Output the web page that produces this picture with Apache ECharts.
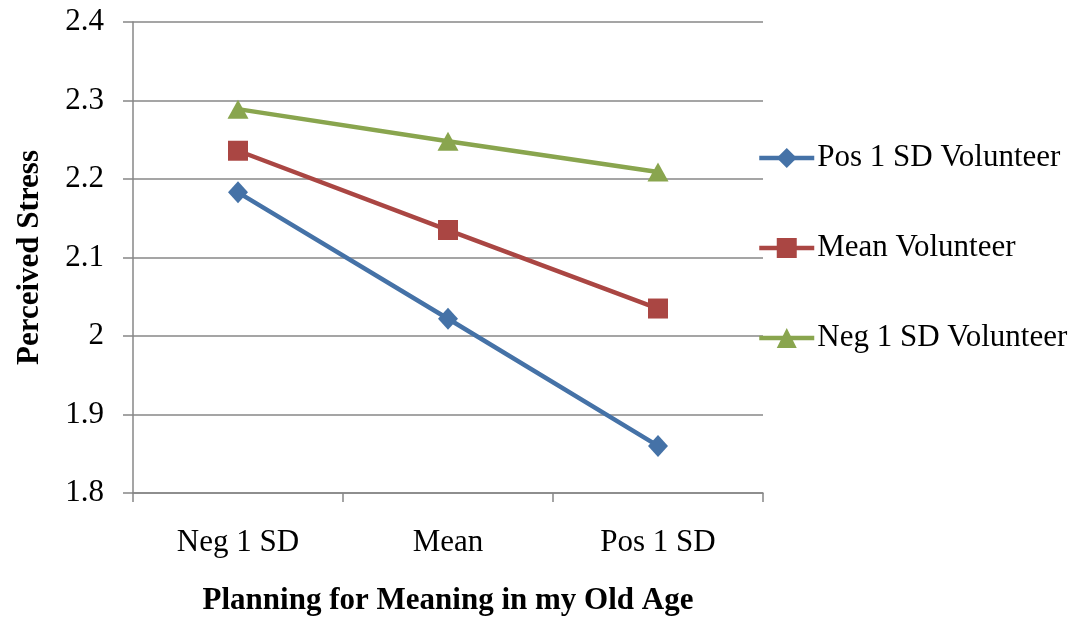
<!DOCTYPE html>
<html>
<head>
<meta charset="utf-8">
<script src="https://cdn.jsdelivr.net/npm/echarts@6/dist/echarts.min.js"></script>
<style>
html,body{margin:0;padding:0;background:#fff;}
#chart{width:1087px;height:617px;}
</style>
</head>
<body>
<div id="chart"></div>
<script>
const categories = ["Neg 1 SD", "Mean", "Pos 1 SD"];
const posVolunteer = [2.183, 2.022, 1.860];
const meanVolunteer = [2.236, 2.135, 2.035];
const negVolunteer = [2.289, 2.248, 2.209];
const seriesNames = ["Pos 1 SD Volunteer", "Mean Volunteer", "Neg 1 SD Volunteer"];

const FONT = '"Liberation Serif", "Times New Roman", serif';
const GRID_COLOR = '#878787';
const FS = 31;

const chart = echarts.init(document.getElementById('chart'), null, {renderer: 'canvas'});

function lineSeries(name, data, color, symbol, size) {
  return {
    name: name,
    type: 'line',
    data: data,
    symbol: symbol,
    symbolSize: size,
    showAllSymbol: true,
    lineStyle: {color: color, width: 4.5},
    itemStyle: {color: color},
    emphasis: {disabled: true},
    animation: false
  };
}

chart.setOption({
  animation: false,
  backgroundColor: '#ffffff',
  grid: {left: 133, top: 22, right: 324, bottom: 124, containLabel: false, outerBoundsMode: 'none'},
  legend: {
    orient: 'vertical',
    left: 757,
    top: 141,
    padding: 0,
    itemWidth: 55,
    itemHeight: 25,
    itemGap: 56,
    data: seriesNames,
    lineStyle: {width: 4.5},
    textStyle: {fontFamily: FONT, fontSize: FS, color: '#000', lineHeight: 34, padding: [0,0,0,-2]}
  },
  xAxis: {
    type: 'category',
    data: categories,
    boundaryGap: true,
    axisLine: {show: true, lineStyle: {color: GRID_COLOR, width: 1.5}},
    axisTick: {show: true, length: 9, inside: false, lineStyle: {color: GRID_COLOR, width: 1.5}},
    axisLabel: {fontFamily: FONT, fontSize: FS, color: '#000', margin: 34},
    splitLine: {show: false},
    name: 'Planning for Meaning in my Old Age',
    nameLocation: 'middle',
    nameGap: 92,
    nameTextStyle: {fontFamily: FONT, fontSize: FS, fontWeight: 'bold', color: '#000'}
  },
  yAxis: {
    type: 'value',
    min: 1.8,
    max: 2.4,
    interval: 0.1,
    axisLine: {show: true, lineStyle: {color: GRID_COLOR, width: 1.5}},
    axisTick: {show: true, length: 10, inside: false, lineStyle: {color: GRID_COLOR, width: 1.5}},
    axisLabel: {fontFamily: FONT, fontSize: FS, color: '#000', margin: 29,
      formatter: function (v) { return String(Math.round(v * 10) / 10); }},
    splitLine: {show: true, lineStyle: {color: GRID_COLOR, width: 1.5}},
    name: 'Perceived Stress',
    nameLocation: 'middle',
    nameGap: 88,
    nameRotate: 90,
    nameTextStyle: {fontFamily: FONT, fontSize: FS, fontWeight: 'bold', color: '#000'}
  },
  series: [
    lineSeries(seriesNames[0], posVolunteer, '#4572A7', 'diamond', [20, 22]),
    lineSeries(seriesNames[1], meanVolunteer, '#AA4643', 'rect', 20),
    lineSeries(seriesNames[2], negVolunteer, '#89A54E', 'triangle', [21, 19])
  ]
});
</script>
</body>
</html>
